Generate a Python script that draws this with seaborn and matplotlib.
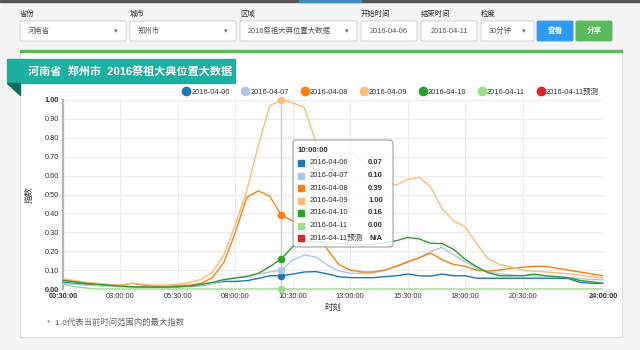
import numpy as np
import pandas as pd
import matplotlib
matplotlib.use("Agg")
import matplotlib.pyplot as plt
import seaborn as sns
from matplotlib.patches import Rectangle, FancyBboxPatch, Polygon
from matplotlib.lines import Line2D

# 时间轴: 00:30 ~ 24:00, 每30分钟
times = [f"{h:02d}:{m:02d}:00" for h in range(0, 25) for m in (0, 30)][1:49]
tick_idx = [0, 5, 10, 15, 20, 25, 30, 35, 40, 47]
tick_labels = [times[i] for i in tick_idx]
hover = 19  # 10:00:00

series_names = ["2016-04-06", "2016-04-07", "2016-04-08", "2016-04-09",
                "2016-04-10", "2016-04-11", "2016-04-11预测"]
colors = ["#1f77b4", "#aec7e8", "#ff7f0e", "#ffbb78", "#2ca02c", "#98df8a", "#d62728"]

d0406 = [0.035, 0.03, 0.025, 0.02, 0.018, 0.015, 0.012, 0.01, 0.01, 0.01, 0.012, 0.015,
         0.018, 0.03, 0.04, 0.04, 0.044, 0.056, 0.07, 0.07, 0.079, 0.09, 0.092, 0.08,
         0.065, 0.06, 0.06, 0.06, 0.065, 0.07, 0.079, 0.07, 0.068, 0.079, 0.07, 0.07,
         0.057, 0.057, 0.057, 0.057, 0.057, 0.057, 0.057, 0.057, 0.055, 0.035, 0.03, 0.03]
d0407 = [0.03, 0.025, 0.02, 0.018, 0.015, 0.012, 0.012, 0.01, 0.01, 0.01, 0.012, 0.015,
         0.02, 0.03, 0.045, 0.06, 0.07, 0.08, 0.09, 0.10, 0.153, 0.18, 0.17, 0.127,
         0.095, 0.083, 0.083, 0.085, 0.10, 0.12, 0.14, 0.165, 0.20, 0.22, 0.18, 0.145,
         0.11, 0.09, 0.08, 0.075, 0.07, 0.07, 0.068, 0.065, 0.06, 0.055, 0.05, 0.048]
d0408 = [0.05, 0.04, 0.03, 0.025, 0.02, 0.02, 0.03, 0.02, 0.015, 0.015, 0.02, 0.02,
         0.03, 0.06, 0.14, 0.30, 0.485, 0.52, 0.49, 0.39, 0.36, 0.33, 0.30, 0.21,
         0.13, 0.10, 0.09, 0.09, 0.10, 0.12, 0.145, 0.165, 0.19, 0.155, 0.13, 0.12,
         0.10, 0.095, 0.10, 0.11, 0.115, 0.12, 0.12, 0.11, 0.10, 0.09, 0.08, 0.07]
d0409 = [0.055, 0.045, 0.035, 0.03, 0.025, 0.02, 0.03, 0.025, 0.02, 0.02, 0.025, 0.035,
         0.05, 0.09, 0.18, 0.34, 0.52, 0.76, 0.97, 1.00, 0.985, 0.96, 0.78, 0.62,
         0.65, 0.73, 0.68, 0.62, 0.575, 0.55, 0.58, 0.59, 0.54, 0.425, 0.36, 0.33,
         0.24, 0.16, 0.13, 0.118, 0.10, 0.095, 0.09, 0.086, 0.08, 0.074, 0.065, 0.058]
d0410 = [0.045, 0.038, 0.03, 0.025, 0.02, 0.015, 0.012, 0.01, 0.01, 0.01, 0.012, 0.015,
         0.025, 0.035, 0.05, 0.058, 0.065, 0.083, 0.118, 0.16, 0.224, 0.25, 0.25, 0.245,
         0.24, 0.235, 0.233, 0.235, 0.245, 0.255, 0.273, 0.265, 0.242, 0.24, 0.21, 0.157,
         0.118, 0.086, 0.07, 0.07, 0.07, 0.079, 0.07, 0.065, 0.06, 0.045, 0.038, 0.03]
d0411 = [0.025, 0.012, 0.005, 0, 0, 0, 0, 0, 0, 0, 0, 0,
         0, 0, 0, 0, 0, 0, 0, 0, 0, 0, 0, 0,
         0, 0, 0, 0, 0, 0, 0, 0, 0, 0, 0, 0,
         0, 0, 0, 0, 0, 0, 0, 0, 0, 0, 0, 0]
d0411_pred = [None] * 48

all_data = [d0406, d0407, d0408, d0409, d0410, d0411, d0411_pred]

sns.set_theme(style="white")
plt.rcParams['font.family'] = ['Liberation Sans', 'Noto Sans CJK SC', 'DejaVu Sans']

fig = plt.figure(figsize=(6.4, 3.5), dpi=100, facecolor='#f4f4f4')

# 背景层 (像素坐标)
bg = fig.add_axes([0, 0, 1, 1], zorder=0)
bg.set_xlim(0, 640)
bg.set_ylim(350, 0)
bg.axis('off')

bg.add_patch(Rectangle((0, 0), 640, 2, color='#555555'))
bg.add_patch(Rectangle((299, 0), 62, 2, color='#3c8dbc'))

# 筛选栏
labels_top = [("省份", 20), ("城市", 130), ("区域", 240), ("开始时间", 361), ("结束时间", 421), ("粒度", 481)]
for txt, x in labels_top:
    bg.text(x, 14, txt, fontsize=5.3, color='#333', va='center', ha='left')

boxes = [(20, 126, "河南省", True), (130, 236, "郑州市", True),
         (240, 357, "2016祭祖大典位置大数据", True), (361, 417, "2016-04-06", False),
         (421, 477, "2016-04-11", False), (481, 534, "30分钟", True)]
for x0, x1, txt, drop in boxes:
    bg.add_patch(FancyBboxPatch((x0, 21), x1 - x0, 20, boxstyle='round,pad=0,rounding_size=1.5',
                                facecolor='white', edgecolor='#cccccc', lw=0.6))
    if drop:
        bg.text(x0 + 8, 31.5, txt, fontsize=5.3, color='#555', va='center', ha='left')
        bg.text(x1 - 10, 31.5, "▾", fontsize=5, color='#666', va='center', ha='center',
                family='DejaVu Sans')
    else:
        bg.text((x0 + x1) / 2, 31.5, txt, fontsize=5.3, color='#555', va='center', ha='center')

for x0, x1, txt, c in [(537, 573, "查看", '#2e9bf0'), (576, 612, "分享", '#5cb85c')]:
    bg.add_patch(FancyBboxPatch((x0, 21), x1 - x0, 20, boxstyle='round,pad=0,rounding_size=1.5',
                                facecolor=c, edgecolor=c, lw=0.6))
    bg.text((x0 + x1) / 2, 31.5, txt, fontsize=5.5, color='white', va='center', ha='center',
            fontweight='bold')

# 面板
bg.add_patch(Rectangle((20, 51), 602, 286, facecolor='white', edgecolor='#dddddd', lw=0.8))
bg.add_patch(Rectangle((20, 50), 602, 2, color='#5cb85c'))

# 标题条
bg.add_patch(Rectangle((7, 59), 228, 24, color='#1cb0a0'))
bg.add_patch(Polygon([(7, 83), (20, 83), (20, 95)], closed=True, color='#0d6b60'))
bg.text(28, 71, "河南省  郑州市  2016祭祖大典位置大数据", fontsize=8, color='white',
        fontweight='bold', va='center', ha='left')

bg.text(47, 323, "*  1.0代表当前时间范围内的最大指数", fontsize=6, color='#666', va='center', ha='left')

# 主图
ax = fig.add_axes([63 / 640, 61 / 350, 540 / 640, 189 / 350], zorder=2)
ax.patch.set_alpha(0)
idx = np.arange(len(times))

ax.axvline(hover, color='#cccccc', lw=1, zorder=1)

for name, vals, c in zip(series_names, all_data, colors):
    if all(v is None for v in vals):
        continue
    df_plot = pd.DataFrame({"idx": idx, "v": vals})
    sns.lineplot(data=df_plot, x="idx", y="v", color=c, linewidth=1.0, ax=ax, zorder=3)

for l in ax.lines:
    l.set_clip_on(False)

for vals, c in zip(all_data, colors):
    if vals[hover] is not None:
        ax.scatter(hover, vals[hover], s=30, color=c, zorder=6, clip_on=False, linewidths=0)

ax.set_xlim(0, len(times) - 1)
ax.set_ylim(0, 1.0)
ax.set_xticks(tick_idx)
ax.set_xticklabels(tick_labels)
ax.set_yticks(np.round(np.arange(0, 1.01, 0.1), 2))
ax.set_yticklabels([f"{v:.2f}" for v in np.arange(0, 1.01, 0.1)])
ax.grid(True, color='#ececec', lw=0.8)
ax.set_axisbelow(True)
ax.tick_params(length=0, pad=3, labelsize=5.3, labelcolor='#333')
for s in ['top', 'right', 'bottom']:
    ax.spines[s].set_visible(False)
ax.spines['left'].set_color('#b5b5b5')
ax.spines['left'].set_linewidth(1.6)

xt = ax.get_xticklabels()
xt[0].set_fontweight('bold')
xt[-1].set_fontweight('bold')
yt = ax.get_yticklabels()
yt[0].set_fontweight('bold')
yt[-1].set_fontweight('bold')

ax.set_xlabel("时刻", fontsize=6, color='#333')
ax.set_ylabel("指数", fontsize=6, color='#333')
ax.xaxis.set_label_coords((333 - 63) / 540, -(304 - 289) / 189)
ax.yaxis.set_label_coords(-(63 - 34) / 540, (289 - 195) / 189)

# 图例
handles = [Line2D([], [], marker='o', linestyle='', markersize=6, color=c) for c in colors]
fig.legend(handles, series_names, loc='center', bbox_to_anchor=(391 / 640, 1 - 92 / 350),
           ncol=7, frameon=False, fontsize=5.4, handlelength=0.8, handletextpad=0.25,
           columnspacing=1.7, borderaxespad=0, labelcolor='#333')

# 提示框
ov = fig.add_axes([0, 0, 1, 1], zorder=5)
ov.set_xlim(0, 640)
ov.set_ylim(350, 0)
ov.axis('off')
ov.add_patch(FancyBboxPatch((293, 140), 100, 107, boxstyle='round,pad=0,rounding_size=3',
                            facecolor=(1, 1, 1, 0.85), edgecolor='#a0a0a0', lw=0.8))
ov.text(298, 151, times[hover], fontsize=5.5, fontweight='bold', color='#333', va='center')
for k, (name, vals, c) in enumerate(zip(series_names, all_data, colors)):
    y = 163 + k * 12.5
    ov.add_patch(Rectangle((297.5, y - 3), 6, 6, color=c))
    ov.text(310, y, name, fontsize=5.5, color='#333', va='center', ha='left')
    val = "N/A" if vals[hover] is None else f"{vals[hover]:.2f}"
    ov.text(383, y, val, fontsize=5.5, color='#333', va='center', ha='right', fontweight='bold')

plt.savefig("out.png", dpi=100, facecolor=fig.get_facecolor())
